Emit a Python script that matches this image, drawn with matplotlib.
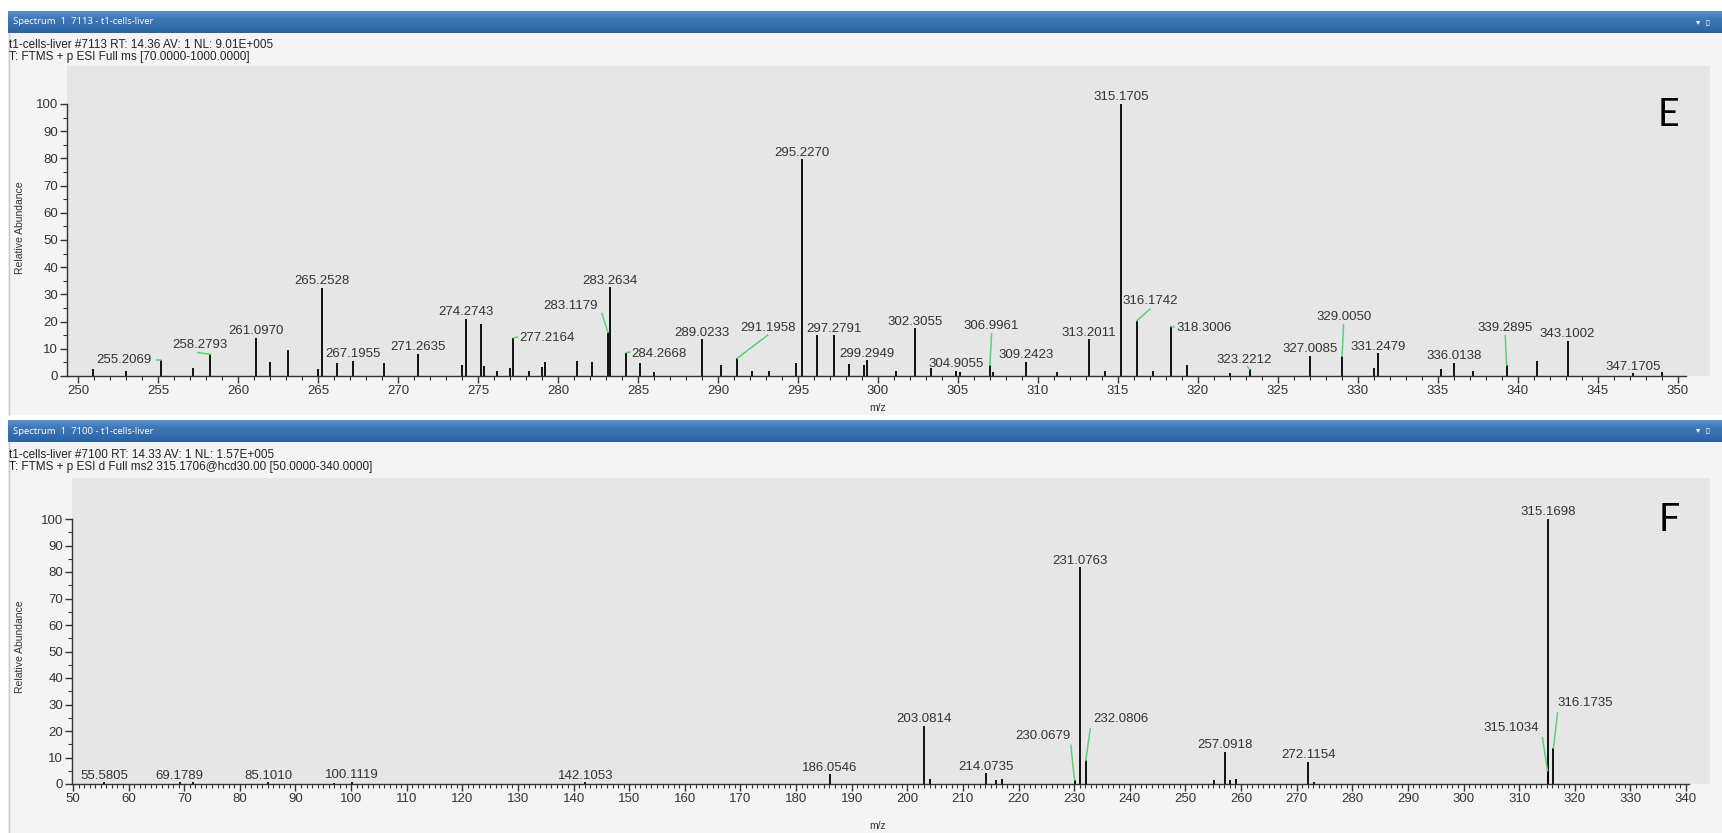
import matplotlib
matplotlib.use("Agg")
import matplotlib.pyplot as plt
import numpy as np
from matplotlib.patches import Rectangle
from matplotlib.ticker import FixedLocator

W, H = 1722, 833

# ---------------- panel E : full MS scan, m/z 250-350 ----------------
e_mz = [250.95, 253.0, 255.2069, 257.2, 258.2793, 261.0970, 262.0, 263.1,
        265.0, 265.2528, 266.2, 267.1955, 269.1, 271.2635, 274.0, 274.2743,
        275.2, 275.4, 276.2, 277.0, 277.2164, 278.2, 279.0, 279.2, 281.2,
        282.1, 283.1179, 283.2634, 284.2668, 285.1, 286.0, 289.0233, 290.2,
        291.1958, 292.1, 293.2, 294.9, 295.2270, 296.2, 297.2791, 298.2,
        299.1, 299.2949, 301.1, 302.3055, 303.3, 304.9055, 305.1, 306.9961,
        307.2, 309.2423, 311.2, 313.2011, 314.2, 315.1705, 316.1742, 317.2,
        318.3006, 319.3, 322.0, 323.2212, 327.0085, 329.0050, 331.0,
        331.2479, 335.2, 336.0138, 337.2, 339.2895, 341.2, 343.1002,
        347.1705, 349.0]
e_int = [2.5, 2.0, 5.8, 3.0, 8.0, 14.0, 5.0, 9.5,
         2.5, 32.5, 4.7, 5.5, 4.7, 8.2, 4.0, 21.0,
         19.0, 3.7, 2.0, 3.0, 14.0, 2.0, 3.3, 5.0, 5.5,
         5.0, 16.0, 32.6, 8.6, 4.7, 1.6, 13.5, 4.0,
         6.5, 2.0, 2.0, 4.7, 79.7, 15.0, 15.0, 4.5,
         4.0, 5.8, 2.0, 17.5, 2.8, 1.8, 1.5, 4.0,
         1.5, 5.2, 1.5, 13.5, 2.0, 100.0, 20.3, 2.0,
         18.2, 4.2, 1.2, 2.4, 7.5, 7.3, 2.8,
         8.3, 2.4, 4.9, 1.8, 4.0, 5.5, 13.0,
         1.0, 1.6]
e_labels = [255.2069, 258.2793, 261.0970, 265.2528, 267.1955, 271.2635,
            274.2743, 277.2164, 283.1179, 283.2634, 284.2668, 289.0233,
            291.1958, 295.2270, 297.2791, 299.2949, 302.3055, 304.9055,
            306.9961, 309.2423, 313.2011, 315.1705, 316.1742, 318.3006,
            323.2212, 327.0085, 329.0050, 331.2479, 336.0138, 339.2895,
            343.1002, 347.1705]

# ---------------- panel F : MS2 of 315.1706 ----------------
f_mz = [55.5805, 69.1789, 71.5, 85.1010, 97.0, 100.1119, 142.1053, 186.0546,
        203.0814, 204.08, 214.0735, 215.9, 217.0, 230.0679, 231.0763,
        232.0806, 255.1, 257.0918, 258.1, 259.1, 272.1154, 273.1,
        315.1034, 315.1698, 316.1735]
f_int = [0.6, 0.6, 0.8, 0.6, 0.5, 0.8, 0.6, 3.6,
         21.9, 2.0, 4.0, 1.5, 1.8, 1.5, 81.8,
         8.9, 1.5, 12.2, 1.5, 2.0, 8.3, 0.8,
         5.0, 100.0, 13.5]
f_labels = [55.5805, 69.1789, 85.1010, 100.1119, 142.1053, 186.0546,
            203.0814, 214.0735, 230.0679, 231.0763, 232.0806, 257.0918,
            272.1154, 315.1034, 315.1698, 316.1735]

# labels that Xcalibur pushed aside: label centre, start of green leader
e_moved = {
    255.2069: ((252.9, 5.8), (254.95, 5.8)),
    258.2793: ((257.6, 11.4), (257.5, 8.6)),
    277.2164: ((279.3, 14.1), (277.45, 14.3)),
    283.1179: ((280.8, 25.8), (282.75, 23.0)),
    284.2668: ((286.3, 8.2), (284.5, 8.8)),
    291.1958: ((293.1, 17.6), (293.1, 15.0)),
    306.9961: ((307.1, 18.5), (307.1, 15.6)),
    316.1742: ((317.0, 27.5), (317.0, 24.6)),
    318.3006: ((320.4, 17.8), (318.5, 18.0)),
    323.2212: ((322.9, 5.8), (323.1, 3.4)),
    329.0050: ((329.15, 21.7), (329.1, 18.8)),
    339.2895: ((339.2, 17.6), (339.2, 14.9)),
}
f_moved = {
    230.0679: ((224.4, 18.3), (229.4, 14.6)),
    232.0806: ((238.5, 24.6), (232.9, 20.8)),
    315.1034: ((308.6, 21.2), (314.2, 17.5)),
    316.1735: ((321.8, 30.4), (316.9, 26.8)),
}

TXT = "#333333"
LEAD = "#5fcf73"
plt.rcParams["font.family"] = ["Liberation Sans", "DejaVu Sans"]

fig = plt.figure(figsize=(W / 100, H / 100), dpi=100)
fig.patch.set_facecolor("white")


def px_axes(left, top, right, bottom):
    return fig.add_axes([left / W, 1 - bottom / H, (right - left) / W, (bottom - top) / H])


def title_bar(top, bottom, text):
    bar = px_axes(8, top, W, bottom)
    grad = np.linspace(0, 1, 50).reshape(-1, 1)
    cmap = matplotlib.colors.LinearSegmentedColormap.from_list(
        "bar", ["#5c91cc", "#3e78b9", "#356fb0", "#2b62a0"])
    bar.imshow(grad, aspect="auto", cmap=cmap, extent=[0, 1, 0, 1])
    bar.set_axis_off()
    bar.text(0.003, 0.5, text, color="white", fontsize=6.8, va="center", ha="left",
             transform=bar.transAxes, family=["Open Sans", "DejaVu Sans"])
    bar.text(0.985, 0.5, "\u25be  \u25af", color="white", fontsize=6, va="center",
             ha="left", transform=bar.transAxes, family="DejaVu Sans")


def window(top, bottom):
    fig.add_artist(Rectangle((8 / W, 1 - bottom / H), 1 - 8 / W, (bottom - top) / H,
                             transform=fig.transFigure, facecolor="#f4f4f4",
                             edgecolor="none", zorder=-5))
    fig.add_artist(plt.Line2D([8.5 / W, 8.5 / W], [1 - bottom / H, 1 - top / H],
                              transform=fig.transFigure, color="#c9c9c9", lw=1))


def spectrum(ax, mz, inten, labels, moved, xmin, xmax, major, letter, lpos):
    ax.set_facecolor("#e6e6e6")
    ax.vlines(mz, 0, inten, color="black", lw=1.3)
    lookup = dict(zip(mz, inten))
    for m in labels:
        h = lookup[m]
        s = f"{m:.4f}"
        if m in moved:
            (lx, ly), (sx, sy) = moved[m]
            ax.text(lx, ly, s, ha="center", va="center", fontsize=9.5, color=TXT)
            ax.plot([sx, m], [sy, h], color=LEAD, lw=1.1)
        else:
            ax.annotate(s, (m, h), xytext=(0, 0.5), textcoords="offset points",
                        ha="center", va="bottom", fontsize=9.5, color=TXT)
    for side in ("top", "right"):
        ax.spines[side].set_visible(False)
    ax.spines["left"].set_bounds(0, 100)
    ax.spines["bottom"].set_bounds(ax.get_xlim()[0], xmax + 0.5)
    for side in ("left", "bottom"):
        ax.spines[side].set_color(TXT)
        ax.spines[side].set_linewidth(1)
    ax.set_xticks(np.arange(xmin, xmax + 0.1, major))
    ax.xaxis.set_minor_locator(FixedLocator(np.arange(xmin, xmax + 0.1, 1)))
    ax.set_yticks(np.arange(0, 101, 10))
    ax.yaxis.set_minor_locator(FixedLocator(np.arange(0, 101, 5)))
    ax.tick_params(axis="both", which="major", direction="out", length=5, width=1,
                   color=TXT, labelcolor=TXT, labelsize=9.5, pad=1.5)
    ax.tick_params(axis="both", which="minor", direction="out", length=3, width=0.8,
                   color=TXT)
    ax.text(lpos[0], lpos[1], letter, transform=ax.transAxes, fontsize=27, ha="center",
            va="center", color="black", family=["Lato", "DejaVu Sans"])


# ---------- top window (E) ----------
window(33, 415)
title_bar(11, 33, "Spectrum  1  7113 - t1-cells-liver")
fig.text(9 / W, 1 - 45 / H, "t1-cells-liver #7113 RT: 14.36 AV: 1 NL: 9.01E+005",
         fontsize=8.5, color="#222222", va="center")
fig.text(9 / W, 1 - 57 / H, "T: FTMS + p ESI Full ms [70.0000-1000.0000]",
         fontsize=8.5, color="#222222", va="center")

axE = px_axes(67, 66, 1710, 376)
axE.set_xlim(250 - 11 / 16.0, 250 + (1710 - 78) / 16.0)
axE.set_ylim(0, (376 - 66) / 2.72)
spectrum(axE, e_mz, e_int, e_labels, e_moved, 250, 350, 5, "E", (0.975, 0.842))
fig.text(20 / W, 1 - 228 / H, "Relative Abundance", rotation=90, fontsize=7.5,
         color=TXT, ha="center", va="center")
fig.text(878 / W, 1 - 408 / H, "m/z", fontsize=7.5, color=TXT, ha="center", va="center")

# ---------- bottom window (F) ----------
window(442, 833)
title_bar(420, 442, "Spectrum  1  7100 - t1-cells-liver")
fig.text(9 / W, 1 - 455 / H, "t1-cells-liver #7100 RT: 14.33 AV: 1 NL: 1.57E+005",
         fontsize=8.5, color="#222222", va="center")
fig.text(9 / W, 1 - 467 / H, "T: FTMS + p ESI d Full ms2 315.1706@hcd30.00 [50.0000-340.0000]",
         fontsize=8.5, color="#222222", va="center")

axF = px_axes(72, 478, 1710, 784)
axF.set_xlim(50 - 1 / 5.562, 50 + (1710 - 73) / 5.562)
axF.set_ylim(0, (784 - 478) / 2.65)
spectrum(axF, f_mz, f_int, f_labels, f_moved, 50, 340, 10, "F", (0.975, 0.863))
fig.text(20 / W, 1 - 647 / H, "Relative Abundance", rotation=90, fontsize=7.5,
         color=TXT, ha="center", va="center")
fig.text(878 / W, 1 - 826 / H, "m/z", fontsize=7.5, color=TXT, ha="center", va="center")

fig.savefig("out.png", dpi=100, facecolor=fig.get_facecolor())
